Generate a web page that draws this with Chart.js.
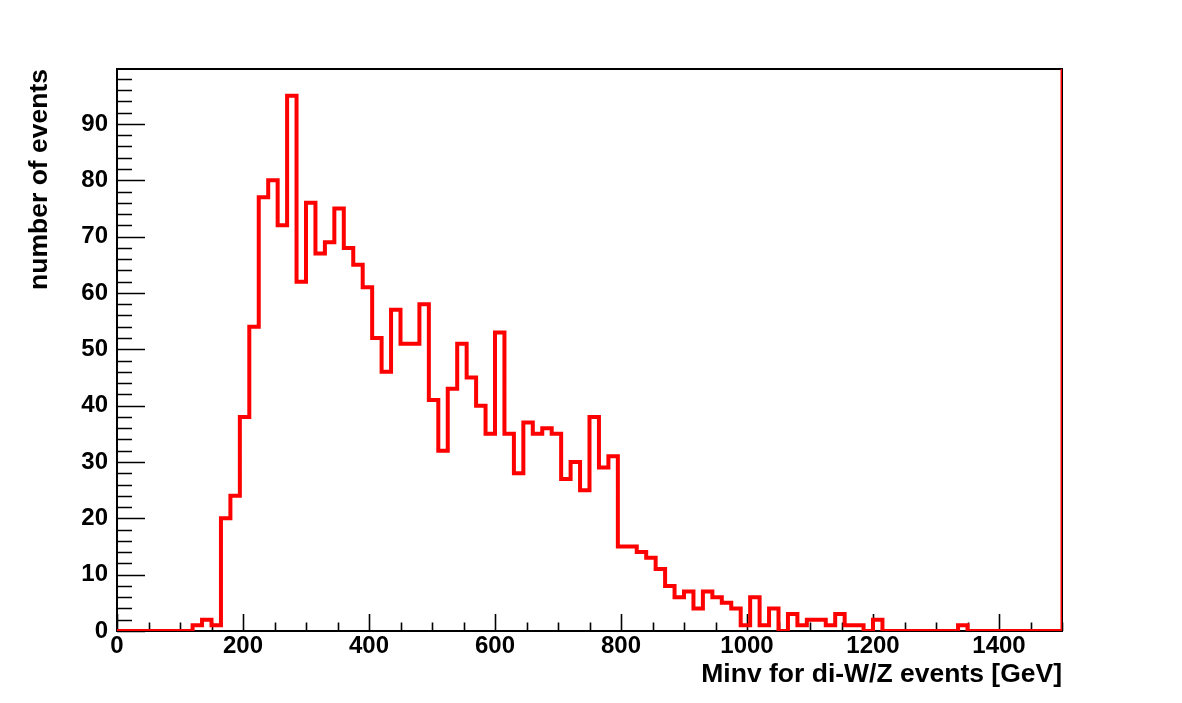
<!DOCTYPE html>
<html>
<head>
<meta charset="utf-8">
<script src="https://cdn.jsdelivr.net/npm/chart.js@4.4.1/dist/chart.umd.min.js"></script>
<style>
  html, body { margin: 0; padding: 0; background: #ffffff; }
  #wrap { width: 1182px; height: 703px; }
</style>
</head>
<body>
<div id="wrap"><canvas id="c" width="1182" height="703"></canvas></div>
<script>
// ---- data ----
const xMin = 0;
const xMax = 1500;
const binWidth = 15;
const yMax = 99.75;
const counts = [
  0, 0, 0, 0, 0, 0, 0, 0, 1, 2,
  1, 20, 24, 38, 54, 77, 80, 72, 95, 62,
  76, 67, 69, 75, 68, 65, 61, 52, 46, 57,
  51, 51, 58, 41, 32, 43, 51, 45, 40, 35,
  53, 35, 28, 37, 35, 36, 35, 27, 30, 25,
  38, 29, 31, 15, 15, 14, 13, 11, 8, 6,
  7, 4, 7, 6, 5, 4, 1, 6, 1, 4,
  0, 3, 1, 2, 2, 1, 3, 1, 1, 0,
  2, 0, 0, 0, 0, 0, 0, 0, 0, 1,
  0, 0, 0, 0, 0, 0, 0, 0, 0, 0
];
const xTickStep = 200;
const xMinorStep = 50;
const yTickStep = 10;
const yMinorStep = 2;
const xTitle = 'Minv for di-W/Z events [GeV]';
const yTitle = 'number of events';

// ---- build step points ----
const binEdges = counts.map((_, i) => xMin + i * binWidth);
const histPoints = binEdges.map((e, i) => ({ x: e, y: counts[i] }));
histPoints.push({ x: xMax, y: counts[counts.length - 1] });
const edgeLine = [{ x: xMax, y: 0 }, { x: xMax, y: yMax }];

const FONT = '"Liberation Sans", Arial, Helvetica, sans-serif';

const frameAndTicks = {
  id: 'frameAndTicks',
  beforeDatasetsDraw(chart) {
    const { ctx, chartArea: a, scales: { x, y } } = chart;
    ctx.save();
    ctx.strokeStyle = '#000';
    ctx.lineWidth = 2;
    ctx.strokeRect(a.left, a.top, a.right - a.left, a.bottom - a.top);
    ctx.lineWidth = 1.6;
    ctx.beginPath();
    for (let v = 0; v < yMax; v += yMinorStep) {
      const py = Math.round(y.getPixelForValue(v)) + 0.5;
      const len = (v % yTickStep === 0) ? 28 : 15;
      ctx.moveTo(a.left, py);
      ctx.lineTo(a.left + len, py);
    }
    for (let v = xMin; v <= xMax; v += xMinorStep) {
      const px = Math.round(x.getPixelForValue(v)) + 0.5;
      const len = (v % xTickStep === 0) ? 17 : 8.5;
      ctx.moveTo(px, a.bottom);
      ctx.lineTo(px, a.bottom - len);
    }
    ctx.stroke();
    ctx.restore();
  }
};

new Chart(document.getElementById('c'), {
  type: 'line',
  data: {
    datasets: [
      {
        data: histPoints,
        stepped: 'before',
        borderColor: '#ff0000',
        borderWidth: 4,
        borderJoinStyle: 'miter',
        borderCapStyle: 'butt',
        pointRadius: 0,
        fill: false,
        tension: 0
      },
      {
        data: edgeLine,
        borderColor: '#ff0000',
        borderWidth: 3,
        pointRadius: 0,
        fill: false
      }
    ]
  },
  options: {
    responsive: false,
    animation: false,
    devicePixelRatio: 1,
    layout: { padding: { top: 69, right: 120, left: 0, bottom: 0 } },
    plugins: { legend: { display: false }, tooltip: { enabled: false } },
    scales: {
      x: {
        type: 'linear',
        min: xMin,
        max: xMax,
        grid: { display: false, drawTicks: false },
        border: { display: false },
        ticks: {
          stepSize: xTickStep,
          includeBounds: false,
          autoSkip: false,
          maxRotation: 0,
          padding: 1,
          color: '#000',
          font: { family: FONT, size: 24, weight: 'bold' },
          callback: (v) => String(v)
        },
        title: {
          display: true,
          text: xTitle,
          align: 'end',
          color: '#000',
          padding: { top: 0, bottom: 12 },
          font: { family: FONT, size: 26.5, weight: 'bold' }
        },
        afterFit(s) { s.height = 72; }
      },
      y: {
        type: 'linear',
        min: 0,
        max: yMax,
        grid: { display: false, drawTicks: false },
        border: { display: false },
        ticks: {
          stepSize: yTickStep,
          includeBounds: false,
          padding: 9,
          color: '#000',
          font: { family: FONT, size: 24, weight: 'bold' },
          callback: (v) => String(v)
        },
        title: {
          display: true,
          text: yTitle,
          align: 'end',
          color: '#000',
          padding: { top: 24, bottom: 0 },
          font: { family: FONT, size: 26.5, weight: 'bold' }
        },
        afterFit(s) { s.width = 117; }
      }
    }
  },
  plugins: [frameAndTicks]
});
</script>
</body>
</html>
